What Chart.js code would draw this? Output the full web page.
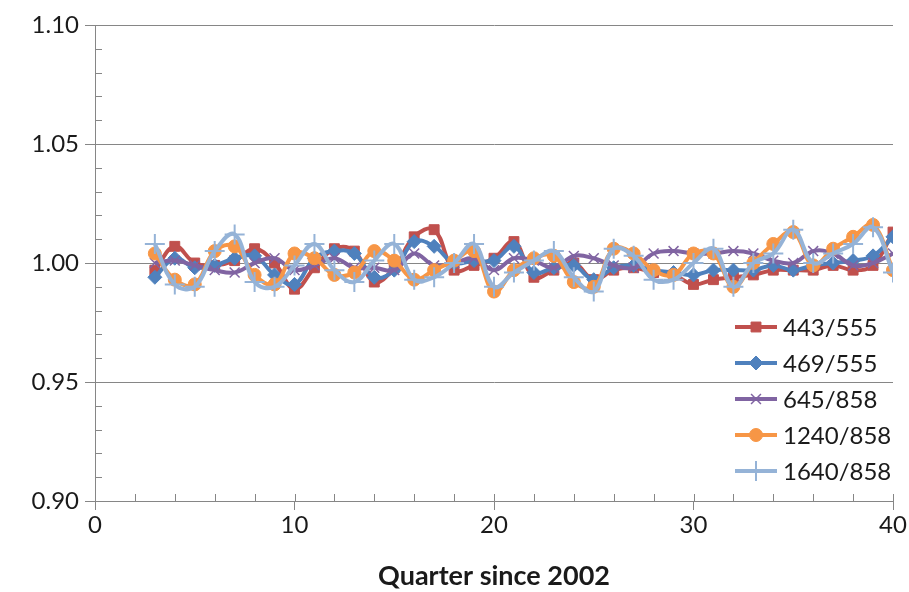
<!DOCTYPE html>
<html>
<head>
<meta charset="utf-8">
<script src="https://cdn.jsdelivr.net/npm/chart.js@4.4.1/dist/chart.umd.min.js"></script>
<style>
  html, body { margin: 0; background: #fff; }
</style>
</head>
<body>
<canvas id="chart" width="909" height="592"></canvas>
<script>
// quarters since 2002 (x) and the five band ratios
const quarters = [3, 4, 5, 6, 7, 8, 9, 10, 11, 12, 13, 14, 15, 16, 17, 18, 19, 20, 21, 22,
                  23, 24, 25, 26, 27, 28, 29, 30, 31, 32, 33, 34, 35, 36, 37, 38, 39, 40];

const r443_555 = [0.997, 1.007, 1.000, 0.999, 1.001, 1.006, 1.000, 0.989,
                  0.998, 1.006, 1.005, 0.992, 0.998, 1.011, 1.014, 0.997, 0.999, 1.002,
                  1.009, 0.994, 0.997, 1.000, 0.993, 0.997, 0.998, 0.996, 0.995, 0.991,
                  0.993, 0.994, 0.995, 0.997, 0.997, 0.997, 0.999, 0.997, 0.999, 1.013];
const r469_555 = [0.994, 1.002, 0.998, 0.999, 1.002, 1.003, 0.995, 0.991,
                  1.002, 1.005, 1.004, 0.994, 0.997, 1.009, 1.007, 1.000, 1.001, 1.001,
                  1.007, 0.996, 0.998, 0.999, 0.993, 0.998, 0.999, 0.997, 0.996, 0.995,
                  0.997, 0.997, 0.997, 0.999, 0.997, 0.999, 1.000, 1.001, 1.003, 1.011];
const r645_858 = [1.000, 1.001, 0.999, 0.997, 0.996, 1.000, 1.002, 0.997,
                  0.999, 1.002, 0.998, 0.998, 0.997, 1.004, 0.999, 1.000, 1.002, 0.997,
                  1.002, 1.001, 0.998, 1.003, 1.002, 0.999, 0.998, 1.004, 1.005, 1.004,
                  1.004, 1.005, 1.004, 1.001, 1.000, 1.005, 1.004, 0.999, 1.000, 1.004];
const r1240_858 = [1.004, 0.993, 0.991, 1.005, 1.007, 0.995, 0.991, 1.004,
                   1.002, 0.995, 0.996, 1.005, 1.001, 0.993, 0.997, 1.001, 1.005, 0.988,
                   0.997, 1.002, 1.003, 0.992, 0.990, 1.006, 1.004, 0.997, 0.995, 1.004,
                   1.004, 0.990, 1.000, 1.008, 1.013, 0.999, 1.006, 1.011, 1.016, 0.997];
const r1640_858 = [1.008, 0.991, 0.990, 1.005, 1.012, 0.992, 0.990, 0.999,
                   1.008, 0.997, 0.992, 1.001, 1.008, 0.993, 0.994, 1.000, 1.008, 0.990,
                   0.996, 1.001, 1.005, 0.994, 0.988, 1.006, 1.003, 0.993, 0.993, 1.000,
                   1.006, 0.990, 1.000, 1.004, 1.014, 1.000, 1.004, 1.008, 1.015, 0.996];

const yTicks = [0.90, 0.95, 1.00, 1.05, 1.10];

const FONT = "Lato, 'Open Sans', sans-serif";
const AXIS = '#868686';

function pts(vals) {
    return vals.map((v, i) => ({ x: quarters[i], y: v }));
}

function series(label, vals, color, style, radius, pbw, order) {
    return {
        label: label,
        data: pts(vals),
        borderColor: color,
        backgroundColor: color,
        borderWidth: 4,
        tension: 0.4,
        pointStyle: style,
        pointRadius: radius,
        pointBorderWidth: pbw,
        pointBorderColor: color,
        pointBackgroundColor: color,
        order: order
    };
}

// small inner ticks like the spreadsheet axes
const minorTicks = {
    id: 'minorTicks',
    afterDraw(chart) {
        const ctx = chart.ctx;
        const xs = chart.scales.x, ys = chart.scales.y;
        const a = chart.chartArea;
        ctx.save();
        ctx.strokeStyle = AXIS;
        ctx.lineWidth = 1;
        ctx.beginPath();
        for (let q = 2; q <= 40; q += 2) {
            const px = Math.round(xs.getPixelForValue(q)) + 0.5;
            ctx.moveTo(px, a.bottom);
            ctx.lineTo(px, a.bottom - 7);
        }
        for (let k = 1; k < 20; k++) {
            if (k % 5 === 0) continue;
            const py = Math.round(ys.getPixelForValue(0.9 + k * 0.01)) + 0.5;
            ctx.moveTo(a.left, py);
            ctx.lineTo(a.left + 7, py);
        }
        ctx.stroke();
        ctx.restore();
    }
};

// legend drawn inside the plot, bottom right
const insideLegend = {
    id: 'insideLegend',
    afterDraw(chart) {
        const ctx = chart.ctx;
        const a = chart.chartArea;
        const x0 = a.right - 158, x1 = a.right - 116;
        let y = a.bottom - 174;
        ctx.save();
        ctx.font = "24px " + FONT;
        ctx.textBaseline = 'middle';
        chart.data.datasets.forEach(ds => {
            ctx.strokeStyle = ds.borderColor;
            ctx.lineWidth = 4;
            ctx.beginPath();
            ctx.moveTo(x0, y);
            ctx.lineTo(x1, y);
            ctx.stroke();
            ctx.fillStyle = ds.pointBackgroundColor;
            ctx.strokeStyle = ds.pointBorderColor;
            ctx.lineWidth = ds.pointBorderWidth;
            Chart.helpers.drawPoint(ctx, {
                pointStyle: ds.pointStyle,
                radius: ds.pointRadius,
                rotation: 0,
                borderWidth: ds.pointBorderWidth
            }, (x0 + x1) / 2, y);
            ctx.fillStyle = '#1a1a1a';
            ctx.fillText(ds.label, x1 + 6, y + 1);
            y += 36;
        });
        ctx.restore();
    }
};

const ctx = document.getElementById('chart').getContext('2d');

const chart = new Chart(ctx, {
    type: 'line',
    data: {
        datasets: [
            series('443/555', r443_555, '#C0504D', 'rect', 7, 1, 4),
            series('469/555', r469_555, '#4F81BD', 'rectRot', 7, 1, 3),
            series('645/858', r645_858, '#8064A2', 'crossRot', 7, 1.5, 2),
            series('1240/858', r1240_858, '#F79646', 'circle', 6.5, 1, 1),
            series('1640/858', r1640_858, '#95B3D7', 'cross', 10, 2, 0)
        ]
    },
    options: {
        responsive: false,
        animation: false,
        layout: { padding: { left: 0, right: 16, top: 25, bottom: 0 } },
        plugins: {
            legend: { display: false },
            tooltip: { enabled: false }
        },
        scales: {
            x: {
                type: 'linear',
                min: 0,
                max: 40,
                afterFit: s => { s.height = 91; },
                ticks: {
                    stepSize: 10,
                    color: '#1a1a1a',
                    font: { family: FONT, size: 24 },
                    padding: 1,
                    maxRotation: 0
                },
                grid: { drawOnChartArea: false, color: AXIS, tickLength: 9 },
                border: { color: AXIS },
                title: {
                    display: true,
                    text: 'Quarter since 2002',
                    color: '#1a1a1a',
                    font: { family: FONT, size: 27, weight: 'bold' },
                    padding: { top: 0, bottom: 0 }
                }
            },
            y: {
                min: 0.9,
                max: 1.1,
                afterFit: s => { s.width = 95; s.paddingTop = 8; s.paddingBottom = 8; },
                afterBuildTicks: s => { s.ticks = yTicks.map(v => ({ value: v })); },
                ticks: {
                    color: '#1a1a1a',
                    font: { family: FONT, size: 24 },
                    padding: 6,
                    callback: v => v.toFixed(2)
                },
                grid: { color: AXIS, tickLength: 10 },
                border: { color: AXIS }
            }
        }
    },
    plugins: [minorTicks, insideLegend]
});
</script>
</body>
</html>
